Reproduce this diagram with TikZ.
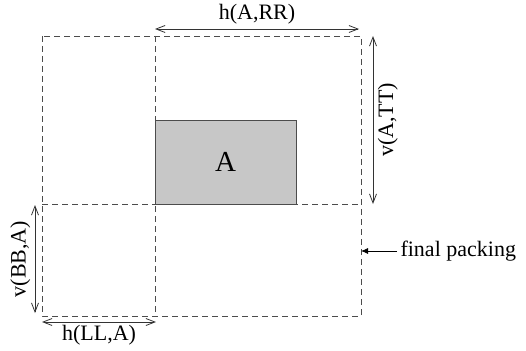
\documentclass[tikz,border=0pt]{standalone}
\usepackage{fontspec}
\setmainfont{Liberation Serif}
\usetikzlibrary{arrows.meta}
\begin{document}
\begin{tikzpicture}[x=1pt,y=-1pt,font=\fontsize{22}{24}\selectfont]
\useasboundingbox (0,0) rectangle (526,350);
\tikzset{grid/.style={dashed, dash pattern=on 6pt off 4pt, black!70, line width=0.9pt},
dim/.style={{Straight Barb[length=9pt,width=7pt]}-{Straight Barb[length=9pt,width=7pt]}, black!80, line width=0.8pt},
lbl/.style={text=black}}
\coordinate (tl) at (42,36);
\coordinate (tm) at (155,36);
\coordinate (tr) at (361,36);
\coordinate (ml) at (42,204);
\coordinate (mr) at (361,204);
\coordinate (bl) at (42,316);
\coordinate (bm) at (155,316);
\coordinate (br) at (361,316);
\node[draw=black!70, fill=black!22, line width=0.9pt, minimum width=141pt, minimum height=84pt, inner sep=0pt, font=\fontsize{29}{30}\selectfont] (boxA) at (225.5,162) {A};
\draw[grid] (tl) rectangle (br);
\draw[grid] (tm) -- (bm);
\draw[grid] (ml) -- (mr);
\coordinate (rr0) at (155,29);
\coordinate (rr1) at (359,29);
\draw[dim] (rr0) -- node[lbl, above=1pt] (hARR) {h(A,RR)} (rr1);
\coordinate (tt0) at (373,36);
\coordinate (tt1) at (373,204);
\draw[dim] (tt0) -- node[lbl, rotate=90, below=1pt] (vATT) {v(A,TT)} (tt1);
\coordinate (bb0) at (35,205);
\coordinate (bb1) at (35,313);
\draw[dim] (bb0) -- node[lbl, rotate=90, above=1pt] (vBBA) {v(BB,A)} (bb1);
\coordinate (ll0) at (42,322);
\coordinate (ll1) at (156,322);
\draw[dim] (ll0) -- node[lbl, below=-1pt] (hLLA) {h(LL,A)} (ll1);
\node[anchor=west] (final) at (397,251) {final packing};
\draw[-{Latex[length=7pt,width=6pt]}, line width=0.8pt] (final.west) -- (mr |- final.west);
\end{tikzpicture}
\end{document}
